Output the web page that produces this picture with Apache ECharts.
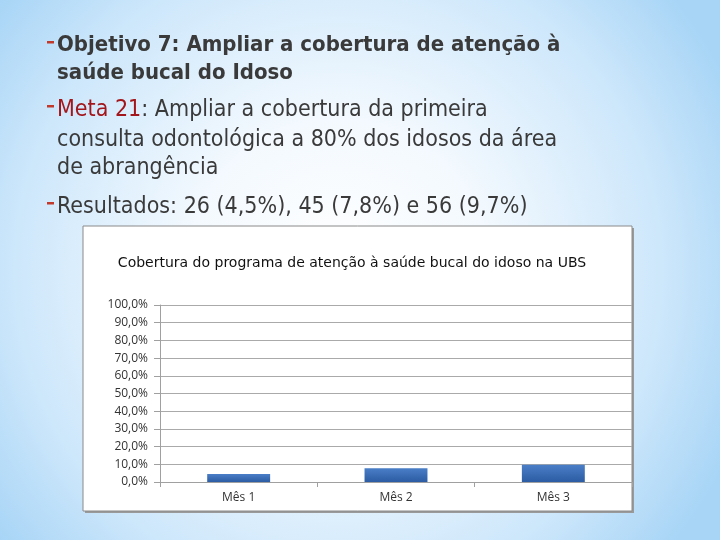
<!DOCTYPE html>
<html><head><meta charset="utf-8">
<script src="https://cdn.jsdelivr.net/npm/echarts@6/dist/echarts.min.js"></script>
<style>html,body{margin:0;padding:0;}#c{width:720px;height:540px;}</style>
</head><body><div id="c"></div>
<script>
const categories = ['Mês 1', 'Mês 2', 'Mês 3'];
const coverage = [4.5, 7.8, 9.7];
const yTicks = [0, 10, 20, 30, 40, 50, 60, 70, 80, 90, 100];
const chartTitle = 'Cobertura do programa de atenção à saúde bucal do idoso na UBS';

const slideFont = '"DejaVu Sans Condensed", "DejaVu Sans", sans-serif';
const txtColor = '#3a3a3a';
function dash(y) {
  return { type: 'rect', shape: { x: 47, y: y, width: 7, height: 2.5 }, style: { fill: '#c0392b' }, z: 10 };
}
function line(y, rich, bold) {
  const fs = bold ? 22 : 23;
  return { type: 'text', x: 57, y: y, z: 10,
    style: { text: rich, fontFamily: slideFont, fontSize: fs, fontWeight: bold ? 'bold' : 'normal',
      fill: txtColor, verticalAlign: 'middle',
      rich: { r: { fill: '#a3171c', fontFamily: slideFont, fontSize: fs } } } };
}

const chart = echarts.init(document.getElementById('c'), null, { renderer: 'canvas' });
chart.setOption({
  animation: false,
  graphic: [
    { type: 'rect', shape: { x: 0, y: 0, width: 720, height: 540 }, z: -10,
      style: { fill: new echarts.graphic.RadialGradient(0.47, 0.5, 0.8, [
        { offset: 0, color: '#ffffff' }, { offset: 0.35, color: '#f3f9fe' },
        { offset: 0.75, color: '#cde7fb' }, { offset: 1, color: '#a8d5f6' }]) } },
    { type: 'rect', shape: { x: 85, y: 228, width: 549, height: 285 }, z: -6, style: { fill: '#9a9a9a' } },
    { type: 'rect', shape: { x: 83, y: 226, width: 549, height: 285 }, z: -5,
      style: { fill: '#ffffff', stroke: '#8a8a8a', lineWidth: 1 } },
    dash(41), line(45, 'Objetivo 7: Ampliar a cobertura de atenção à', true),
    line(73, 'saúde bucal do Idoso', true),
    dash(105), line(110, '{r|Meta 21}: Ampliar a cobertura da primeira', false),
    line(140, 'consulta odontológica a 80% dos idosos da área', false),
    line(168, 'de abrangência', false),
    dash(202), line(207, 'Resultados: 26 (4,5%), 45 (7,8%) e 56 (9,7%)', false),
    { type: 'text', x: 352, y: 263, z: 10,
      style: { text: chartTitle, fontFamily: '"DejaVu Sans", sans-serif', fontSize: 14, fill: '#111',
        align: 'center', verticalAlign: 'middle' } }
  ],
  grid: { left: 160, right: 88, top: 305, bottom: 58 },
  xAxis: {
    type: 'category', data: categories, boundaryGap: true,
    axisLine: { lineStyle: { color: '#a0a0a0' } },
    axisTick: { show: true, alignWithLabel: false, length: 5, lineStyle: { color: '#a0a0a0' } },
    axisLabel: { color: '#333', fontFamily: '"Open Sans", sans-serif', fontSize: 12, margin: 10 }
  },
  yAxis: {
    type: 'value', min: yTicks[0], max: yTicks[yTicks.length - 1], interval: 10,
    axisLine: { show: true, lineStyle: { color: '#a0a0a0' } },
    axisTick: { show: true, length: 6, lineStyle: { color: '#a0a0a0' } },
    splitLine: { lineStyle: { color: '#aaaaaa' } },
    axisLabel: { color: '#333', fontFamily: '"Open Sans", sans-serif', fontSize: 12, margin: 12,
      formatter: v => v.toFixed(1).replace('.', ',') + '%' }
  },
  series: [{
    type: 'bar', data: coverage, barWidth: '40%',
    itemStyle: { color: new echarts.graphic.LinearGradient(0, 0, 0, 1, [
      { offset: 0, color: '#4a7ec6' }, { offset: 1, color: '#2b5ca4' }]) }
  }]
});
</script></body></html>
